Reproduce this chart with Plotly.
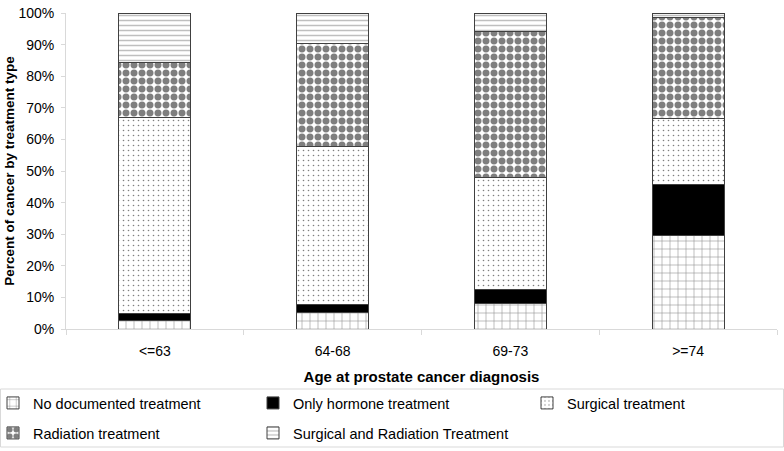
import plotly.graph_objects as go

categories = ["<=63", "64-68", "69-73", ">=74"]
no_documented = [2.6, 5.2, 8.2, 29.6]
only_hormone = [2.4, 2.4, 4.4, 16.2]
surgical = [62.0, 50.3, 35.4, 20.8]
radiation = [17.4, 32.6, 46.1, 32.1]
surg_and_rad = [15.6, 9.5, 5.9, 1.3]
y_ticks = [0, 10, 20, 30, 40, 50, 60, 70, 80, 90, 100]
y_tick_labels = [f"{v}%" for v in y_ticks]

FONT = "Liberation Sans, Arial, sans-serif"
W, H = 784, 451
L, R, T, B = 66, 7, 13, 122
pw, ph = W - L - R, H - T - B

def px_x(p):
    return (p - L) / pw

def px_y(p):
    return (H - B - p) / ph

# (name, values, pattern, legend id, legend text x px, legend row y px)
series = [
    ("No documented treatment", no_documented,
     dict(shape="+", fgcolor="black", bgcolor="white", size=8, solidity=0.12), "legend2", 25, 403),
    ("Only hormone treatment", only_hormone,
     dict(shape="", fgcolor="black", bgcolor="black"), "legend3", 292, 403),
    ("Surgical treatment", surgical,
     dict(shape=".", fgcolor="black", bgcolor="white", size=5, solidity=0.08), "legend4", 566, 403),
    ("Radiation treatment", radiation,
     dict(shape=".", fgcolor="black", bgcolor="white", size=8, solidity=0.6), "legend5", 25, 433),
    ("Surgical and Radiation Treatment", surg_and_rad,
     dict(shape="-", fgcolor="#7f7f7f", bgcolor="white", size=5, solidity=0.3), "legend6", 292, 433),
]

fig = go.Figure()
legends = {}
for i, (name, vals, pat, lg, tx, ty) in enumerate(series):
    color = "black" if pat.get("shape") == "" else "white"
    fig.add_trace(go.Bar(
        x=categories, y=vals, name=name, legend=lg, uid=f"trace{i}",
        marker=dict(color=color, pattern=pat, line=dict(color="#404040", width=1)),
        width=0.405,
    ))
    lx = max(tx - 39, -7)
    legends[lg] = dict(
        orientation="h", xanchor="left", yanchor="middle",
        x=px_x(lx), y=px_y(ty),
        font=dict(family=FONT, size=14.5, color="black"),
        bgcolor="rgba(0,0,0,0)", borderwidth=0, itemwidth=30,
    )

fig.update_layout(
    width=W, height=H,
    margin=dict(l=L, r=R, t=T, b=B, autoexpand=False),
    barmode="stack",
    showlegend=True,
    plot_bgcolor="white", paper_bgcolor="white",
    font=dict(family=FONT, size=14, color="black"),
    xaxis=dict(
        showline=True, linecolor="#d9d9d9", linewidth=1,
        ticks="outside", tickson="boundaries", ticklen=5, tickcolor="#d9d9d9",
        ticklabelstandoff=9,
        tickfont=dict(family=FONT, size=14, color="black"),
        title=dict(text="<b>Age at prostate cancer diagnosis</b>",
                   font=dict(family=FONT, size=15, color="black"), standoff=13),
        showgrid=False, automargin=False,
    ),
    yaxis=dict(
        range=[0, 100], tickvals=y_ticks, ticktext=y_tick_labels,
        showline=True, linecolor="#d9d9d9", linewidth=1,
        ticks="outside", ticklen=4, tickcolor="#d9d9d9", ticklabelstandoff=4,
        showgrid=False, zeroline=False, automargin=False,
        tickfont=dict(family=FONT, size=14, color="black"),
        title=dict(text="<b>Percent of cancer by treatment type</b>",
                   font=dict(family=FONT, size=13.5, color="black"), standoff=0),
    ),
    shapes=[dict(type="rect", xref="paper", yref="paper",
                 x0=px_x(0.5), x1=px_x(783.5), y0=px_y(389), y1=px_y(447),
                 line=dict(color="#d9d9d9", width=1), fillcolor="rgba(0,0,0,0)")],
    **legends,
)

fig.write_html("out.html", config={"displayModeBar": False},
               post_script="document.body.style.margin='0';")
